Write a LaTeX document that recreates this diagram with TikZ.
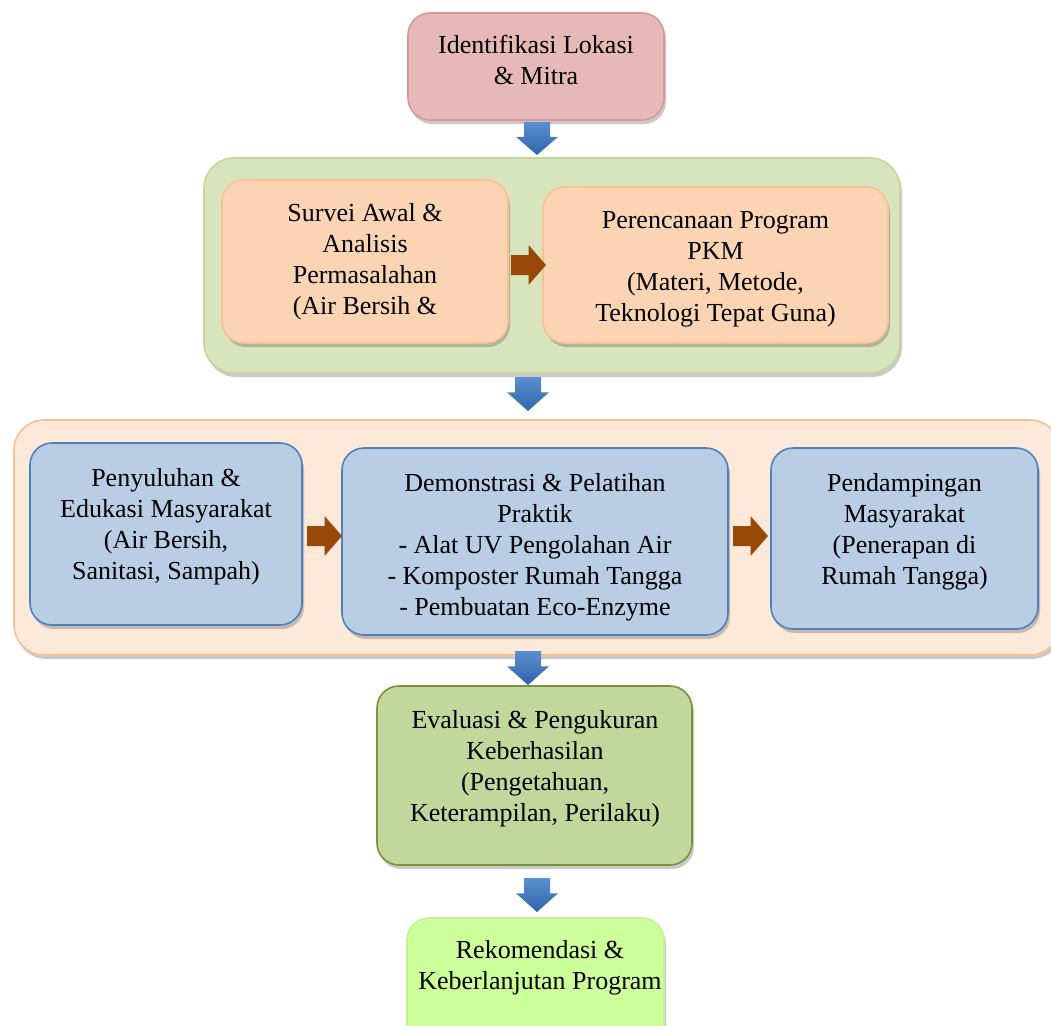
\documentclass[tikz,border=0pt]{standalone}
\usepackage{fontspec}
\setmainfont{Liberation Serif}
\usetikzlibrary{shadows,calc}
\definecolor{pinkfill}{HTML}{E6B9B8}
\definecolor{pinkline}{HTML}{D99694}
\definecolor{grnfill}{HTML}{D7E4BD}
\definecolor{grnline}{HTML}{C3D69B}
\definecolor{peachfill}{HTML}{FBD4B4}
\definecolor{peachline}{HTML}{FAC090}
\definecolor{lpeach}{HTML}{FDE9D9}
\definecolor{bluefill}{HTML}{B9CDE5}
\definecolor{blueline}{HTML}{4F81BD}
\definecolor{evalfill}{HTML}{C3D69B}
\definecolor{evalline}{HTML}{77933C}
\definecolor{rekfill}{HTML}{CCFF99}
\definecolor{rekline}{HTML}{C6EFA0}
\definecolor{brown}{HTML}{984807}
\definecolor{arrtop}{HTML}{5B8FD0}
\definecolor{arrbot}{HTML}{2F64AA}
\tikzset{
  box/.style={rounded corners=22pt, line width=1.6pt, inner sep=0pt,
    drop shadow={shadow xshift=2pt, shadow yshift=-4pt, opacity=0.3, fill=black!70}},
  container/.style={rounded corners=30pt, line width=1.6pt,
    drop shadow={shadow xshift=2pt, shadow yshift=-4pt, opacity=0.3, fill=black!70}},
  txt/.style={align=center, inner sep=0pt, font=\fontsize{26}{31}\selectfont},
  bluearrow/.style={top color=arrtop, bottom color=arrbot, draw=none},
  brownarrow/.style={fill=brown, draw=none},
}
\newcommand\bluedown[2]{%
  \path[bluearrow] let \p1=(#1), \p2=(#2) in
    (\x1-13pt,\y1) -- (\x1+13pt,\y1) -- (\x1+13pt,{\y1+0.45*(\y2-\y1)})
    -- (\x1+21pt,{\y1+0.45*(\y2-\y1)}) -- (\x1,\y2) -- (\x1-21pt,{\y1+0.45*(\y2-\y1)})
    -- (\x1-13pt,{\y1+0.45*(\y2-\y1)}) -- cycle;}
\newcommand\brownright[2]{%
  \path[brownarrow] let \p1=(#1), \p2=(#2) in
    (\x1,\y1+10pt) -- ({\x1+0.5*(\x2-\x1)},\y1+10pt) -- ({\x1+0.5*(\x2-\x1)},\y1+20pt)
    -- (\x2,\y1) -- ({\x1+0.5*(\x2-\x1)},\y1-20pt) -- ({\x1+0.5*(\x2-\x1)},\y1-10pt)
    -- (\x1,\y1-10pt) -- cycle;}
\begin{document}
\begin{tikzpicture}[x=1pt,y=-1pt]
\useasboundingbox (0,0) rectangle (1051,1025);

% top box
\node[box, fill=pinkfill, draw=pinkline, minimum width=256pt, minimum height=107pt] (ident) at (536,66.5) {};
\node[txt] (identt) at (536,59.5) {Identifikasi Lokasi\\\& Mitra};

% green container
\node[container, fill=grnfill, draw=grnline, minimum width=696pt, minimum height=215pt] (green) at (552,265.5) {};
\node[box, fill=peachfill, draw=peachline, minimum width=286pt, minimum height=163pt] (survei) at (365,261.5) {};
\node[txt] (surveit) at (365,261.5) {Survei Awal \&\\Analisis\\Permasalahan\\(Air Bersih \&};
\node[box, fill=peachfill, draw=peachline, minimum width=345pt, minimum height=156pt] (renc) at (715.5,265) {};
\node[txt] (renct) at (715.5,269) {Perencanaan Program\\PKM\\(Materi, Metode,\\Teknologi Tepat Guna)};

% peach container
\node[container, fill=lpeach, draw=peachline, minimum width=1046pt, minimum height=235pt] (peach) at (537,537.5) {};
\node[box, fill=bluefill, draw=blueline, minimum width=272pt, minimum height=182pt] (penyu) at (166,534) {};
\node[txt] (penyut) at (166,527) {Penyuluhan \&\\Edukasi Masyarakat\\(Air Bersih,\\Sanitasi, Sampah)};
\node[box, fill=bluefill, draw=blueline, minimum width=386pt, minimum height=187pt] (demo) at (535,541.5) {};
\node[txt] (demot) at (535,547) {Demonstrasi \& Pelatihan\\Praktik\\- Alat UV Pengolahan Air\\- Komposter Rumah Tangga\\- Pembuatan Eco-Enzyme};
\node[box, fill=bluefill, draw=blueline, minimum width=267pt, minimum height=181pt] (pend) at (904.5,538.5) {};
\node[txt] (pendt) at (904.5,531.5) {Pendampingan\\Masyarakat\\(Penerapan di\\Rumah Tangga)};

% evaluation
\node[box, fill=evalfill, draw=evalline, minimum width=315pt, minimum height=179pt] (eval) at (534.5,775.5) {};
\node[txt] (evalt) at (535,768.5) {Evaluasi \& Pengukuran\\Keberhasilan\\(Pengetahuan,\\Keterampilan, Perilaku)};

% recommendation
\node[box, fill=rekfill, draw=rekline, minimum width=257pt, minimum height=130pt] (rek) at (535.5,983) {};
\node[txt] (rektext) at (540,968) {Rekomendasi \&\\Keberlanjutan Program};

% block arrows (named end points)
\coordinate (a1s) at (537,122); \coordinate (a1e) at (537,155);
\coordinate (a2s) at (528,377); \coordinate (a2e) at (528,411);
\coordinate (a3s) at (528,651); \coordinate (a3e) at (528,685);
\coordinate (a4s) at (537,878); \coordinate (a4e) at (537,912);
\bluedown{a1s}{a1e}
\bluedown{a2s}{a2e}
\bluedown{a3s}{a3e}
\bluedown{a4s}{a4e}

\coordinate (b1s) at (511,265); \coordinate (b1e) at (546,265);
\coordinate (b2s) at (307,536); \coordinate (b2e) at (342,536);
\coordinate (b3s) at (733,536); \coordinate (b3e) at (768,536);
\brownright{b1s}{b1e}
\brownright{b2s}{b2e}
\brownright{b3s}{b3e}
\end{tikzpicture}
\end{document}
